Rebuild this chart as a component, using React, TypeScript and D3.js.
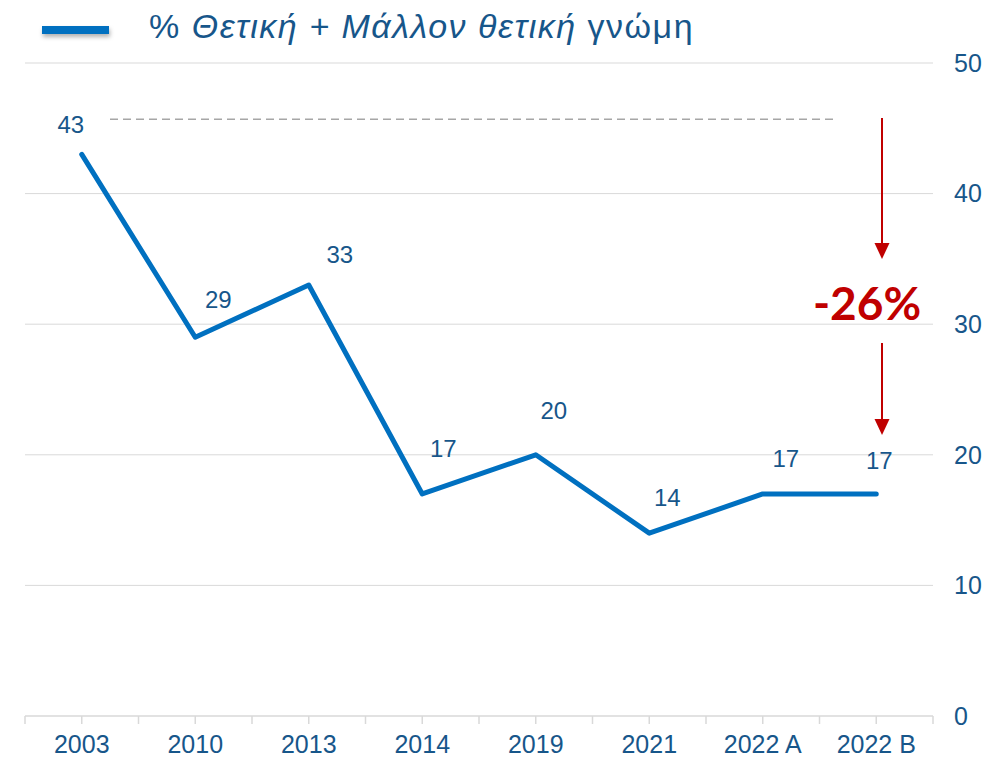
import React from "react";
import * as d3 from "d3";

const categories = ["2003", "2010", "2013", "2014", "2019", "2021", "2022 A", "2022 B"];
const values = [43, 29, 33, 17, 20, 14, 17, 17];
const yTicks = [0, 10, 20, 30, 40, 50];
const legendParts = [
  { text: "% ", italic: false },
  { text: "Θετική + Μάλλον θετική", italic: true },
  { text: " γνώμη", italic: false },
];
const changeLabel = "-26%";
const referenceLevel = 45.7;
// label offsets (layout only, baseline relative to point)
const labelDx = [-11, 23, 31, 21, 18, 18, 23, 3];
const labelDy = [-21, -29, -22, -37, -36, -27, -27, -25];

const W = 989;
const H = 759;
const blue = "#0070C0";
const textBlue = "#17568A";
const red = "#C00000";

export default function App() {
  const x = d3.scaleBand<string>().domain(categories).range([25, 933]);
  const y = d3.scaleLinear().domain([0, 50]).range([716, 63]);
  const cx = (c: string) => (x(c) as number) + x.bandwidth() / 2;
  const line = d3
    .line<number>()
    .x((_, i) => cx(categories[i]))
    .y((d) => y(d));

  const tickXs: number[] = [];
  categories.forEach((c) => {
    tickXs.push(x(c) as number);
    tickXs.push(cx(c));
  });
  tickXs.push(933);

  const arrowX = 882;
  const arrow = (y1: number, y2: number) => (
    <g>
      <line x1={arrowX} x2={arrowX} y1={y1} y2={y2 - 14} stroke={red} strokeWidth={2} />
      <path d={`M${arrowX - 7.5},${y2 - 16} L${arrowX + 7.5},${y2 - 16} L${arrowX},${y2} Z`} fill={red} />
    </g>
  );

  return (
    <svg width={W} height={H} style={{ position: "absolute", left: 0, top: 0 }} fontFamily="'Liberation Sans', Arial, sans-serif">
      <rect width={W} height={H} fill="#fff" />
      <defs>
        <filter id="sh" x="-20%" y="-100%" width="140%" height="400%">
          <feDropShadow dx="1" dy="3" stdDeviation="2" floodColor="#000" floodOpacity="0.3" />
        </filter>
      </defs>
      {/* legend */}
      <rect x={42} y={26} width={67} height={8} fill={blue} filter="url(#sh)" />
      <text x={149} y={38} fontSize={34} fill={textBlue} letterSpacing={1.5}>
        {legendParts.map((p, i) => (
          <tspan key={i} fontStyle={p.italic ? "italic" : "normal"}>{p.text}</tspan>
        ))}
      </text>
      {/* gridlines */}
      {yTicks.filter((t) => t > 0).map((t) => (
        <line key={t} x1={25} x2={933} y1={y(t)} y2={y(t)} stroke="#D9D9D9" strokeWidth={1} />
      ))}
      {/* right axis labels */}
      {yTicks.map((t) => (
        <text key={t} x={954} y={y(t)} dy="0.35em" fontSize={25} fill={textBlue}>
          {t}
        </text>
      ))}
      {/* x axis */}
      <line x1={25} x2={933} y1={716} y2={716} stroke="#D9D9D9" strokeWidth={1.5} />
      {tickXs.map((tx, i) => (
        <line key={i} x1={tx} x2={tx} y1={716} y2={724} stroke="#D9D9D9" strokeWidth={1.5} />
      ))}
      {categories.map((c) => (
        <text key={c} x={cx(c)} y={753} textAnchor="middle" fontSize={25} fill={textBlue}>
          {c}
        </text>
      ))}
      {/* reference dashed line */}
      <line x1={110} x2={838} y1={y(referenceLevel)} y2={y(referenceLevel)} stroke="#A6A6A6" strokeWidth={1.5} strokeDasharray="8 5" />
      {/* data line */}
      <path d={line(values) as string} fill="none" stroke={blue} strokeWidth={5} strokeLinejoin="round" strokeLinecap="round" />
      {values.map((v, i) => (
        <text key={i} x={cx(categories[i]) + labelDx[i]} y={y(v) + labelDy[i]} textAnchor="middle" fontSize={24} fill={textBlue}>
          {v}
        </text>
      ))}
      {/* arrows and change label */}
      {arrow(118, 259)}
      <text x={867} y={320} textAnchor="middle" fontSize={46} fontWeight="bold" fontFamily="Lato, 'Open Sans', sans-serif" fill={red}>
        {changeLabel}
      </text>
      {arrow(343, 435)}
    </svg>
  );
}
